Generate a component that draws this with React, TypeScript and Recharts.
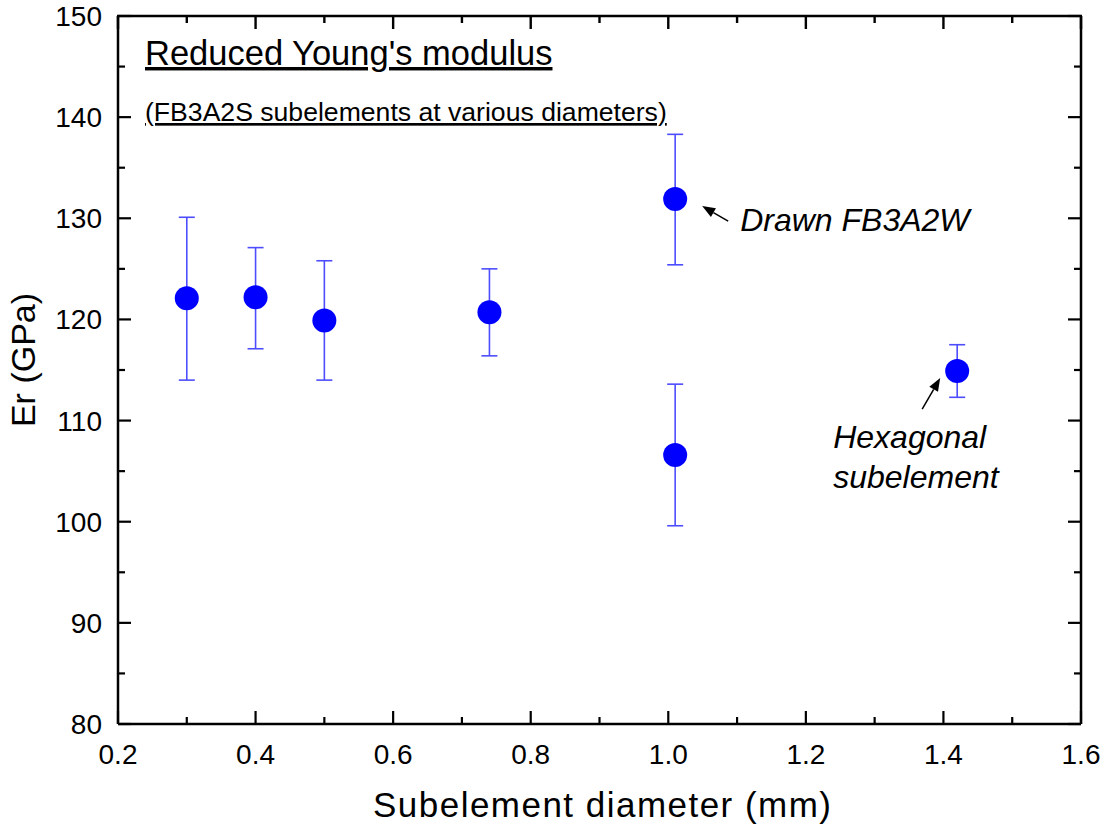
import React from "react";
import {
  ScatterChart,
  Scatter,
  XAxis,
  YAxis,
  ErrorBar,
  ReferenceDot,
} from "recharts";

// diameters (mm) and reduced modulus (GPa)
const diameters = [0.3, 0.4, 0.5, 0.74, 1.01, 1.01, 1.42];
const erMean = [122.1, 122.2, 119.9, 120.7, 131.9, 106.6, 114.9];
const erHigh = [130.1, 127.1, 125.8, 125.0, 138.3, 113.6, 117.5];
const erLow = [114.0, 117.1, 114.0, 116.4, 125.4, 99.6, 112.3];

const xMajor = [0.2, 0.4, 0.6, 0.8, 1.0, 1.2, 1.4, 1.6];
const xMinor = [0.3, 0.5, 0.7, 0.9, 1.1, 1.3, 1.5];
const yMajor = [80, 90, 100, 110, 120, 130, 140, 150];
const yMinor = [85, 95, 105, 115, 125, 135, 145];

const FONT = "'Liberation Sans', Arial, sans-serif";
const MAJOR = 13;
const MINOR = 7;

const data = diameters.map((x, i) => ({
  x,
  y: erMean[i],
  err: [erMean[i] - erLow[i], erHigh[i] - erMean[i]],
}));

const xTicks = [...xMajor, ...xMinor];
const yTicks = [...yMajor, ...yMinor];

function tickLen(v: number, majors: number[]) {
  return majors.some((m) => Math.abs(m - v) < 1e-6) ? MAJOR : MINOR;
}

function BottomTick(props: any) {
  const { x, y, payload } = props;
  const len = tickLen(payload.value, xMajor);
  return (
    <g>
      <line x1={x} y1={y} x2={x} y2={y - len} stroke="#000" strokeWidth={2.2} />
      {len === MAJOR && (
        <text x={x} y={y + 40} textAnchor="middle" fontSize={28} fontFamily={FONT} fill="#000">
          {payload.value.toFixed(1)}
        </text>
      )}
    </g>
  );
}

// inward ticks on the top edge of the frame
const topTick = (len: number) => (p: any) =>
  <rect x={p.cx - 1.2} y={p.cy} width={2.4} height={len} fill="#000" />;

function LeftTick(props: any) {
  const { x, y, payload } = props;
  const len = tickLen(payload.value, yMajor);
  return (
    <g>
      <line x1={x} y1={y} x2={x + len} y2={y} stroke="#000" strokeWidth={2.2} />
      {len === MAJOR && (
        <text x={x - 16} y={y + 10} textAnchor="end" fontSize={28} fontFamily={FONT} fill="#000">
          {payload.value}
        </text>
      )}
    </g>
  );
}

function RightTick(props: any) {
  const { x, y, payload } = props;
  const len = tickLen(payload.value, yMajor);
  return <line x1={x} y1={y} x2={x - len} y2={y} stroke="#000" strokeWidth={2.2} />;
}

function Arrow({ x1, y1, x2, y2 }: { x1: number; y1: number; x2: number; y2: number }) {
  const a = Math.atan2(y2 - y1, x2 - x1);
  const L = 13;
  const hw = 5;
  const bx = x2 - L * Math.cos(a);
  const by = y2 - L * Math.sin(a);
  const px = -Math.sin(a) * hw;
  const py = Math.cos(a) * hw;
  return (
    <g>
      <line x1={x1} y1={y1} x2={bx} y2={by} stroke="#000" strokeWidth={1.5} />
      <polygon points={`${x2},${y2} ${bx + px},${by + py} ${bx - px},${by - py}`} fill="#000" />
    </g>
  );
}

const Dot = (p: any) => <circle cx={p.cx} cy={p.cy} r={12} fill="#0000ff" />;

const drawnNote = (p: any) => (
  <g>
    <Arrow x1={p.cx + 53} y1={p.cy + 22} x2={p.cx + 27} y2={p.cy + 7} />
    <text x={p.cx + 65} y={p.cy + 32} fontSize={32} fontStyle="italic" fontFamily={FONT} fill="#000">
      Drawn FB3A2W
    </text>
  </g>
);

const hexNote = (p: any) => (
  <g>
    <Arrow x1={p.cx - 35} y1={p.cy + 38} x2={p.cx - 17} y2={p.cy + 7} />
    <text x={p.cx - 124} y={p.cy + 77} fontSize={32} fontStyle="italic" fontFamily={FONT} fill="#000">
      Hexagonal
    </text>
    <text x={p.cx - 124} y={p.cy + 117} fontSize={32} fontStyle="italic" fontFamily={FONT} fill="#000">
      subelement
    </text>
  </g>
);

const axisStroke = { stroke: "#000", strokeWidth: 2.5 };

export default function App() {
  return (
    <div style={{ position: "absolute", left: 0, top: 0, background: "#fff" }}>
      <ScatterChart width={1103} height={829} margin={{ top: 16, right: 2, bottom: 0, left: 0 }}>
        <XAxis
          dataKey="x"
          type="number"
          domain={[0.2, 1.6]}
          ticks={xTicks}
          interval={0}
          height={105}
          tickSize={0}
          tickMargin={0}
          tickLine={false}
          axisLine={axisStroke}
          tick={<BottomTick />}
          allowDataOverflow
        />
        <YAxis
          dataKey="y"
          type="number"
          domain={[80, 150]}
          ticks={yTicks}
          interval={0}
          width={118}
          tickSize={0}
          tickMargin={0}
          tickLine={false}
          axisLine={axisStroke}
          tick={<LeftTick />}
          allowDataOverflow
        />
        <YAxis
          yAxisId="right"
          orientation="right"
          type="number"
          domain={[80, 150]}
          ticks={yTicks}
          interval={0}
          width={20}
          tickSize={0}
          tickMargin={0}
          tickLine={false}
          axisLine={axisStroke}
          tick={<RightTick />}
          allowDataOverflow
        />
        <Scatter data={data} shape={Dot} isAnimationActive={false}>
          <ErrorBar dataKey="err" direction="y" width={8} stroke="#4d4dff" strokeWidth={1.6} />
        </Scatter>
        {xTicks.map((v) => (
          <ReferenceDot
            key={`top-${v}`}
            x={v}
            y={150}
            r={0}
            ifOverflow="visible"
            shape={topTick(tickLen(v, xMajor))}
          />
        ))}
        <ReferenceDot x={data[4].x} y={data[4].y} r={0} shape={drawnNote} />
        <ReferenceDot x={data[6].x} y={data[6].y} r={0} shape={hexNote} />
        <line x1={117} y1={16} x2={1082} y2={16} stroke="#000" strokeWidth={2.5} />
        <text x={145} y={65} fontSize={34.5} fontFamily={FONT} fill="#000" textDecoration="underline">
          Reduced Young's modulus
        </text>
        <text x={145} y={121} fontSize={26.6} fontFamily={FONT} fill="#000" textDecoration="underline">
          (FB3A2S subelements at various diameters)
        </text>
        <text
          x={602}
          y={817}
          fontSize={35}
          fontFamily={FONT}
          fill="#000"
          textAnchor="middle"
          textLength={458}
          lengthAdjust="spacing"
        >
          Subelement diameter (mm)
        </text>
        <text
          x={35}
          y={360}
          fontSize={34}
          fontFamily={FONT}
          fill="#000"
          textAnchor="middle"
          transform="rotate(-90, 35, 360)"
        >
          Er (GPa)
        </text>
      </ScatterChart>
    </div>
  );
}
